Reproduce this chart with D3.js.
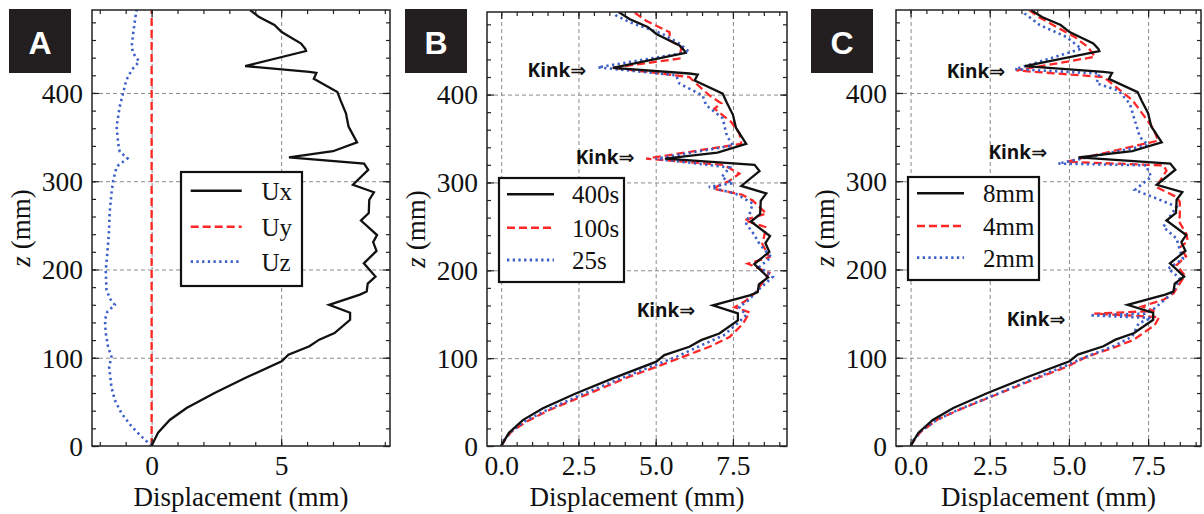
<!DOCTYPE html>
<html>
<head>
<meta charset="utf-8">
<script src="https://cdn.jsdelivr.net/npm/d3@7"></script>
<style>
  body { margin: 0; background: #fff; }
  svg { display: block; }
</style>
</head>
<body>
<svg id="chart" width="1204" height="514"></svg>
<script>
// ---- Displacement profiles, [displacement (mm), z (mm)] ----
// Ux component (also the 400s / 8mm reference run)
const ux = [[0,0],[0.08,5],[0.25,15],[0.7,29.5],[1.35,43],[2.43,60],[3.61,77],[5.02,96],[5.28,103.5],
  [6.09,113],[6.47,120.5],[7.06,128],[7.66,143],[7.66,151],[6.85,160],[8.04,171.5],[8.3,175],
  [8.34,184],[8.64,192],[8.19,207],[8.68,221],[8.55,231],[8.7,239],[8.08,255.5],[8.38,264],
  [8.4,279],[8.58,287.5],[7.77,296],[8.36,313],[8.2,320],[5.3,327],[7.0,334],[7.93,344],
  [7.6,362],[7.5,377],[7.3,391],[7.17,401],[6.26,416],[6.36,422.7],[6.09,424],[3.61,430.5],
  [5.96,447.5],[5.93,450],[5.77,456],[5.02,469],[4.74,477],[4.15,486],[3.8,494]];
const uy = [[0,0],[0,494]];
const uz = [[0,0],[-0.45,12.5],[-0.77,22],[-1.16,37],[-1.42,52],[-1.55,67],[-1.64,90],[-1.55,101],
  [-1.68,112.5],[-1.77,128],[-1.8,143],[-1.71,152],[-1.42,160],[-1.61,167],[-1.74,177],[-1.77,199],
  [-1.71,218],[-1.64,245],[-1.62,264],[-1.55,286],[-1.48,301],[-1.35,316.5],[-0.93,326],[-1.23,333.5],
  [-1.29,343],[-1.35,362],[-1.23,384.5],[-1.1,400],[-0.97,415],[-0.77,426],[-0.48,435.5],[-0.71,445],
  [-0.77,452.5],[-0.71,467.5],[-0.64,483],[-0.58,494]];

// time-step runs
const t100 = [[0,0],[0.12,7],[0.32,16],[0.81,27.6],[1.56,41],[2.86,60],[4.15,79],[5.02,90],[5.88,101.5],
  [6.74,113],[7.39,124],[7.82,139],[8.04,152],[7.55,158],[7.9,165],[8.25,175],[8.36,181],[8.68,197],
  [7.98,207.5],[8.68,215],[8.45,230],[8.58,249],[7.87,257],[8.58,264.5],[8.14,279.5],[7.8,286],
  [6.85,293],[7.39,302],[7.71,310],[7.2,320],[4.69,327],[7.77,344],[7.71,356],[7.44,369],[6.9,384],
  [7.12,390],[6.74,399],[6.31,412.5],[6.09,420],[3.6,430.5],[5.77,441],[5.83,454],[5.45,462],
  [5.45,471],[4.69,484],[4.37,492],[4.3,494]];
const t25 = [[0,0],[0.1,7],[0.3,16],[0.76,28],[1.48,41],[2.7,60],[3.95,78],[4.9,91],[5.7,102],
  [6.5,115],[7.2,126],[7.6,138],[7.93,149],[7.7,158],[8.0,166],[8.3,177],[8.79,192.5],[8.36,204],
  [8.74,215],[8.36,230],[8.2,240],[7.93,253],[8.04,264],[8.14,276],[7.6,287],[6.72,295],[7.5,299],
  [7.13,306],[7.4,317],[5.0,327],[7.5,342],[7.33,351.5],[7.28,356],[7.17,373],[6.63,388],[6.52,399],
  [5.77,412.5],[5.66,422],[3.13,431],[6.09,448.5],[5.77,458],[5.23,469],[4.15,482.5],[3.72,490],[3.65,494]];

// mesh-size runs
const m4 = [[0,0],[0.12,7],[0.32,16],[0.85,30],[1.6,42],[2.9,61],[4.15,79],[4.92,89.5],[5.55,101],
  [6.3,110],[7.03,120],[7.71,137],[7.85,146],[5.8,150],[7.7,153],[7.3,158],[8.0,166],[8.3,173],
  [8.66,193],[8.4,205],[8.7,215],[8.5,225],[8.75,232],[8.71,240],[8.45,256],[8.5,259.5],[8.5,276.5],
  [8.4,282],[7.76,293.5],[8.08,312],[7.98,318],[4.92,322],[7.82,346],[7.66,360],[7.0,392],[6.24,414],
  [6.1,418],[3.34,425.5],[5.82,441],[5.6,452],[5.2,463],[4.55,476],[4.0,487],[3.75,494]];
const m2 = [[0,0],[0.1,7],[0.3,16],[0.8,29],[1.5,41],[2.8,60],[4.0,78],[4.9,91],[5.6,102],[6.4,113],
  [7.0,124],[7.2,139],[7.6,145],[5.66,148],[7.4,150],[7.7,156],[8.1,168],[8.3,176],[8.5,190],
  [8.13,201],[8.6,212],[8.5,222],[8.4,235],[7.98,248],[8.24,263],[8.4,271],[7.8,280],[7.08,290],
  [7.6,305],[7.5,312],[7.45,318],[4.66,320],[7.5,341],[7.24,350],[7.08,369],[6.92,388],[6.55,403],
  [5.87,411],[5.97,422],[3.3,427],[5.39,450],[4.92,463.5],[4.08,477],[3.6,490],[3.55,494]];

// legend entries and tick labels
const namesA = ["Ux", "Uy", "Uz"];
const namesB = ["400s", "100s", "25s"];
const namesC = ["8mm", "4mm", "2mm"];
const zTicks = [0, 100, 200, 300, 400];
const xTicksA = [0, 5];
const xTicksBC = [0, 2.5, 5, 7.5];
const kinkB = [[2.75, 428], [4.31, 329], [6.28, 155]];
const kinkC = [[2.99, 424.6], [4.31, 332.5], [4.89, 143.6]];

// ---- styles ----
const styles = [
  { stroke: "#111", width: 2.3, dash: null },
  { stroke: "#ff2626", width: 2.3, dash: "8,4" },
  { stroke: "#3d5fc8", width: 2.6, dash: "2.3,3.4" }
];

const svg = d3.select("#chart");
const serif = "'Liberation Serif', 'Times New Roman', serif";

const panels = [
  { letter: "A", l: 92, r: 390, t: 10, b: 446, xDom: [-2.3, 9.2], xTicks: xTicksA, xMinorStep: 1,
    xMinorStart: -2, fmt: d3.format("d"), series: [ux, uy, uz], names: namesA,
    badge: { x: 9, y: 9 }, legend: { x: 181, y: 172, w: 121, h: 114, rows: [190.7, 226.7, 261.7], lx1: 190.7, lx2: 241.7, tx: 261.5 },
    kinks: [] },
  { letter: "B", l: 487, r: 787, t: 12, b: 446, xDom: [-0.46, 9.25], xTicks: xTicksBC, xMinorStep: 0.5,
    xMinorStart: 0, fmt: d3.format(".1f"), series: [ux, t100, t25], names: namesB,
    badge: { x: 405, y: 9 }, legend: { x: 499, y: 178, w: 125, h: 104, rows: [194.3, 227.7, 260], lx1: 507, lx2: 554, tx: 572 },
    kinks: kinkB },
  { letter: "C", l: 896, r: 1201, t: 10, b: 446, xDom: [-0.46, 9.17], xTicks: xTicksBC, xMinorStep: 0.5,
    xMinorStart: 0, fmt: d3.format(".1f"), series: [ux, m4, m2], names: namesC,
    badge: { x: 811, y: 9 }, legend: { x: 908, y: 177, w: 131, h: 103, rows: [193.3, 226, 257.7], lx1: 917, lx2: 964, tx: 983 },
    kinks: kinkC }
];

panels.forEach((p, i) => {
  const x = d3.scaleLinear().domain(p.xDom).range([p.l, p.r]);
  const y = d3.scaleLinear().domain([0, 494]).range([p.b, p.t]);
  const g = svg.append("g");
  const W = p.r - p.l, H = p.b - p.t;

  // grid
  const grid = g.append("g").attr("class", "grid");
  grid.append("g").attr("transform", `translate(0,${p.b})`)
    .call(d3.axisBottom(x).tickValues(p.xTicks).tickSize(-H).tickFormat(""));
  grid.append("g").attr("transform", `translate(${p.l},0)`)
    .call(d3.axisLeft(y).tickValues(zTicks.filter(v => v > 0)).tickSize(-W).tickFormat(""));
  grid.selectAll(".domain").remove();
  grid.selectAll("line").attr("stroke", "#8a8a8a").attr("stroke-width", 1).attr("stroke-dasharray", "4,3");

  // data lines
  const clipId = "clip" + i;
  svg.append("clipPath").attr("id", clipId).append("rect")
    .attr("x", p.l).attr("y", p.t).attr("width", W).attr("height", H);
  const line = d3.line().x(d => x(d[0])).y(d => y(d[1]));
  const lines = g.append("g").attr("clip-path", `url(#${clipId})`);
  p.series.forEach((s, k) => {
    const st = styles[k];
    lines.append("path").datum(s).attr("d", line)
      .attr("fill", "none").attr("stroke", st.stroke).attr("stroke-width", st.width)
      .attr("stroke-linejoin", "miter").attr("stroke-dasharray", st.dash);
  });
  // draw the solid series on top
  lines.select("path").raise();

  // ticks (inward, mirrored on all sides)
  const xMinor = d3.range(p.xMinorStart, p.xDom[1], p.xMinorStep);
  const zMinor = d3.range(0, 494, 20);
  const tickG = g.append("g").attr("class", "ticks");
  const addAxis = (axis, tx, ty) => tickG.append("g").attr("transform", `translate(${tx},${ty})`).call(axis);

  const bottom = addAxis(d3.axisBottom(x).tickValues(p.xTicks).tickSize(-7).tickPadding(11).tickFormat(p.fmt), 0, p.b);
  addAxis(d3.axisBottom(x).tickValues(xMinor).tickSize(-4).tickFormat(""), 0, p.b);
  addAxis(d3.axisTop(x).tickValues(p.xTicks).tickSize(-7).tickFormat(""), 0, p.t);
  addAxis(d3.axisTop(x).tickValues(xMinor).tickSize(-4).tickFormat(""), 0, p.t);
  const left = addAxis(d3.axisLeft(y).tickValues(zTicks).tickSize(-7).tickPadding(9), p.l, 0);
  addAxis(d3.axisLeft(y).tickValues(zMinor).tickSize(-4).tickFormat(""), p.l, 0);
  addAxis(d3.axisRight(y).tickValues(zTicks).tickSize(-7).tickFormat(""), p.r, 0);
  addAxis(d3.axisRight(y).tickValues(zMinor).tickSize(-4).tickFormat(""), p.r, 0);
  tickG.selectAll(".domain").remove();
  tickG.selectAll("line").attr("stroke", "#222").attr("stroke-width", 1.2);
  tickG.selectAll("text").attr("font-family", serif).attr("font-size", 27.5).attr("fill", "#111");
  bottom.selectAll("text").attr("dy", null).attr("y", 29);
  left.selectAll("text").attr("dy", "0.34em");

  // frame
  g.append("rect").attr("x", p.l).attr("y", p.t).attr("width", W).attr("height", H)
    .attr("fill", "none").attr("stroke", "#222").attr("stroke-width", 1.5);

  // axis titles
  g.append("text").attr("x", (p.l + p.r) / 2).attr("y", 506)
    .attr("text-anchor", "middle").attr("font-family", serif).attr("font-size", 27).attr("fill", "#111")
    .text("Displacement (mm)");
  const yt = g.append("text").attr("transform", `translate(${p.l - 62},${(p.t + p.b) / 2}) rotate(-90)`)
    .attr("text-anchor", "middle").attr("font-family", serif).attr("font-size", 27).attr("fill", "#111");
  yt.append("tspan").attr("font-style", "italic").text("z");
  yt.append("tspan").text(" (mm)");

  // kink annotations
  g.selectAll(".kink").data(p.kinks).join("text")
    .attr("x", d => x(d[0])).attr("y", d => y(d[1])).attr("dy", "0.36em")
    .attr("text-anchor", "end").attr("font-family", "'Open Sans', 'DejaVu Sans', sans-serif")
    .attr("font-weight", "bold").attr("font-size", 19).attr("fill", "#111")
    .text("Kink⇒");

  // legend
  const L = p.legend;
  const lg = g.append("g");
  lg.append("rect").attr("x", L.x).attr("y", L.y).attr("width", L.w).attr("height", L.h)
    .attr("fill", "#fff").attr("stroke", "#111").attr("stroke-width", 2.2);
  p.names.forEach((n, k) => {
    const st = styles[k];
    lg.append("line").attr("x1", L.lx1).attr("x2", L.lx2).attr("y1", L.rows[k]).attr("y2", L.rows[k])
      .attr("stroke", st.stroke).attr("stroke-width", st.width + 0.2).attr("stroke-dasharray", st.dash);
    lg.append("text").attr("x", L.tx).attr("y", L.rows[k]).attr("dy", "0.36em")
      .attr("font-family", serif).attr("font-size", 25).attr("fill", "#111").text(n);
  });

  // panel badge
  g.append("rect").attr("x", p.badge.x).attr("y", p.badge.y).attr("width", 62).attr("height", 64).attr("fill", "#231f20");
  g.append("text").attr("x", p.badge.x + 31).attr("y", p.badge.y + 44.5).attr("text-anchor", "middle")
    .attr("font-family", "'Liberation Sans', Arial, sans-serif").attr("font-weight", "bold")
    .attr("font-size", 32).attr("fill", "#fff").text(p.letter);
});
</script>
</body>
</html>
